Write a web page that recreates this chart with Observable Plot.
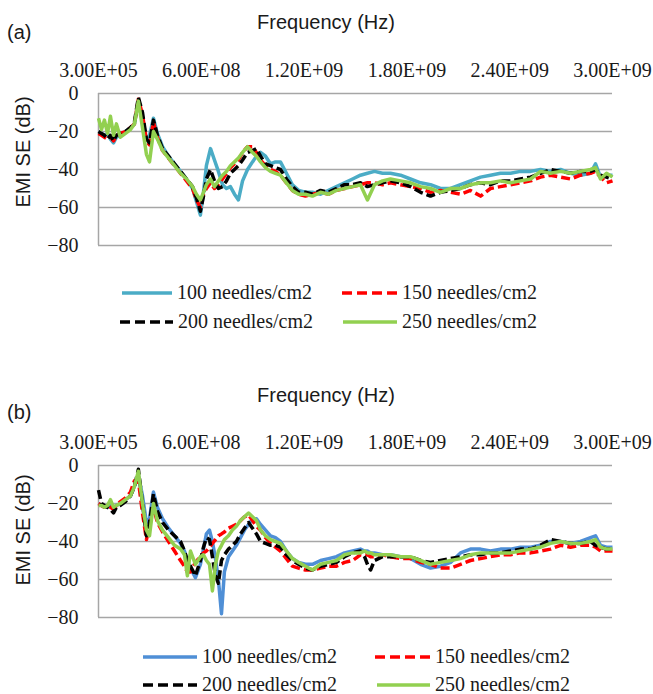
<!DOCTYPE html>
<html>
<head>
<meta charset="utf-8">
<script src="https://cdn.jsdelivr.net/npm/d3@7"></script>
<script src="https://cdn.jsdelivr.net/npm/@observablehq/plot@0.6"></script>
<style>
  html, body { margin: 0; padding: 0; background: #fff; }
  #page { position: relative; width: 653px; height: 694px; overflow: hidden; background: #fff; }
  .abs { position: absolute; white-space: nowrap; line-height: 1; }
  .sans { font-family: "Liberation Sans", Arial, sans-serif; color: #1a1a1a; }
  .serif { font-family: "Liberation Serif", "Times New Roman", serif; color: #1a1a1a; }
  svg.plot { position: absolute; left: 0; }
</style>
</head>
<body>
<div id="page"></div>
<script>
// ---------- data ----------
const seriesNames = ["100 needles/cm2", "150 needles/cm2", "200 needles/cm2", "250 needles/cm2"];
const xTickValues = [3e5, 6e8, 1.2e9, 1.8e9, 2.4e9, 3e9];
const yTickValues = [0, -20, -40, -60, -80];

// Panel (a): frequency in MHz
const freqA = [0.3,18,35,53,70,88,105,128,158,187,210,233,257,280,298,321,344,374,409,444,479,514,549,572,595,613,630,654,677,700,724,747,770,794,817,841,870,899,922,946,975,1004,1033,1062,1097,1132,1168,1208,1249,1296,1343,1389,1436,1483,1529,1570,1611,1658,1704,1763,1821,1880,1938,1996,2055,2113,2171,2230,2288,2346,2405,2463,2522,2580,2638,2697,2755,2813,2872,2901,2930,2965,3000];
const a100 = [-20,-21,-22,-21,-24,-26,-23,-22,-20,-18,-16,-4,-13,-24,-22,-13,-21,-28,-33,-37,-41,-45,-50,-57,-64,-52,-38,-29,-35,-41,-48,-50,-49,-53,-56,-46,-40,-36,-33,-31,-33,-37,-36,-36,-42,-48,-51,-52,-52,-53,-51,-49,-47,-45,-43,-42,-41,-42,-42,-43,-45,-47,-48,-50,-50,-48,-46,-44,-43,-42,-42,-41,-41,-40,-41,-40,-42,-43,-42,-37,-44,-43,-43];
const a150 = [-21,-22,-23,-24,-23,-25,-22,-21,-20,-18,-16,-3,-11,-25,-27,-15,-23,-30,-34,-38,-42,-46,-50,-56,-60,-53,-50,-47,-50,-48,-45,-42,-39,-37,-35,-31,-28,-28,-31,-35,-38,-40,-41,-43,-47,-51,-53,-54,-53,-52,-53,-51,-50,-49,-48,-47,-47,-48,-47,-48,-49,-50,-52,-51,-52,-53,-51,-54,-50,-49,-48,-47,-46,-44,-43,-44,-45,-43,-42,-41,-44,-47,-46];
const a200 = [-20,-21,-22,-24,-22,-25,-22,-21,-20,-18,-15,-2,-10,-24,-26,-14,-22,-29,-33,-37,-41,-45,-49,-55,-62,-54,-45,-40,-46,-50,-49,-46,-42,-40,-38,-35,-31,-30,-29,-33,-37,-38,-39,-40,-45,-49,-52,-52,-53,-51,-52,-50,-48,-48,-47,-49,-48,-47,-46,-47,-49,-52,-54,-52,-51,-50,-48,-47,-48,-46,-46,-45,-44,-42,-40,-41,-42,-41,-41,-40,-43,-44,-45];
const a250 = [-13,-19,-14,-21,-12,-22,-16,-23,-21,-19,-16,-4,-18,-32,-36,-20,-24,-30,-34,-38,-42,-45,-49,-53,-56,-52,-48,-45,-49,-46,-43,-41,-38,-36,-34,-31,-28,-31,-33,-36,-39,-41,-42,-43,-47,-51,-53,-53,-54,-52,-53,-51,-50,-49,-48,-56,-48,-46,-45,-46,-47,-49,-50,-52,-50,-50,-48,-47,-47,-46,-47,-46,-45,-41,-42,-41,-42,-41,-40,-39,-45,-42,-44];

// Panel (b): frequency in MHz
const freqB = [0.3,18,35,53,70,88,105,128,158,187,210,233,257,280,298,321,344,374,409,444,479,502,519,537,566,595,613,630,648,665,683,700,718,735,759,782,805,829,852,876,899,922,946,975,1004,1033,1062,1097,1132,1168,1208,1249,1296,1343,1389,1436,1483,1529,1553,1570,1588,1611,1658,1704,1763,1821,1880,1938,1996,2055,2113,2171,2230,2288,2346,2405,2463,2522,2580,2638,2697,2755,2813,2872,2901,2930,2965,3000];
const b100 = [-20,-21,-22,-22,-21,-23,-21,-20,-18,-16,-11,-5,-16,-30,-28,-14,-22,-28,-33,-37,-41,-45,-50,-54,-59,-52,-44,-36,-34,-40,-49,-60,-78,-56,-48,-45,-42,-38,-34,-31,-28,-28,-31,-34,-37,-38,-40,-45,-49,-51,-52,-52,-50,-49,-48,-46,-45,-44,-45,-45,-46,-46,-47,-47,-48,-49,-52,-54,-53,-51,-46,-44,-44,-45,-44,-44,-43,-43,-42,-40,-40,-41,-40,-38,-37,-42,-43,-43];
const b150 = [-20,-21,-22,-21,-22,-23,-21,-19,-17,-14,-8,-8,-25,-39,-32,-22,-30,-35,-40,-45,-50,-53,-56,-56,-51,-48,-46,-45,-43,-41,-39,-37,-36,-35,-33,-32,-31,-29,-27,-26,-29,-32,-34,-38,-41,-43,-45,-49,-53,-54,-55,-55,-54,-53,-53,-51,-50,-47,-47,-47,-48,-48,-47,-48,-49,-49,-51,-52,-54,-54,-52,-50,-49,-48,-47,-47,-46,-46,-45,-44,-42,-43,-42,-42,-43,-45,-45,-45];
const b200 = [-13,-20,-21,-22,-23,-25,-22,-21,-19,-16,-11,-2,-20,-37,-30,-15,-24,-30,-34,-37,-40,-45,-50,-53,-58,-50,-43,-38,-39,-48,-58,-62,-50,-47,-44,-42,-40,-36,-33,-30,-33,-36,-40,-41,-42,-42,-43,-47,-50,-52,-54,-55,-53,-52,-51,-48,-46,-45,-48,-52,-55,-50,-48,-48,-48,-48,-50,-51,-50,-49,-48,-47,-47,-46,-46,-45,-44,-44,-42,-39,-40,-41,-41,-40,-42,-43,-44,-44];
const b250 = [-21,-21,-22,-21,-18,-22,-21,-20,-18,-16,-11,-3,-20,-34,-37,-20,-29,-34,-38,-42,-44,-47,-58,-45,-52,-48,-47,-50,-52,-66,-52,-45,-42,-39,-37,-34,-32,-29,-27,-25,-27,-29,-34,-37,-39,-40,-41,-45,-49,-51,-53,-55,-52,-51,-50,-47,-46,-46,-45,-46,-46,-47,-47,-47,-48,-48,-50,-52,-51,-50,-49,-47,-46,-46,-46,-46,-45,-44,-43,-41,-40,-41,-41,-40,-39,-43,-44,-44];

// ---------- styles ----------
const stylesA = [
  {color: "#4bacc6", dash: null},
  {color: "#ff0000", dash: "9,4"},
  {color: "#000000", dash: "9,4"},
  {color: "#92d050", dash: null}
];
const stylesB = [
  {color: "#4f8fd6", dash: null},
  {color: "#ff0000", dash: "9,4"},
  {color: "#000000", dash: "9,4"},
  {color: "#92d050", dash: null}
];
const serifFont = "'Liberation Serif', 'Times New Roman', serif";

function fmtExp(d) {
  const [m, e] = d.toExponential(2).split("e");
  const sign = e[0] === "-" ? "-" : "+";
  const digits = e.replace(/^[+-]/, "").padStart(2, "0");
  return m + "E" + sign + digits;
}

const page = document.getElementById("page");

function addText(txt, cls, left, top, opts = {}) {
  const el = document.createElement("div");
  el.className = "abs " + cls;
  el.textContent = txt;
  el.style.left = left + "px";
  el.style.top = top + "px";
  el.style.fontSize = (opts.size || 20) + "px";
  if (opts.center) el.style.transform = "translateX(-50%)";
  if (opts.rotate) {
    el.style.transform = "translate(-50%, -50%) rotate(-90deg)";
  }
  page.appendChild(el);
  return el;
}

function makePanel(freq, values, styles, top) {
  const rows = values.map((arr, k) => arr.map((v, i) => ({f: freq[i] * 1e6, v, s: seriesNames[k]})));
  const chart = Plot.plot({
    width: 653,
    height: 260,
    marginTop: 93,
    marginBottom: 15,
    marginLeft: 98,
    marginRight: 41,
    style: {fontFamily: serifFont, fontSize: "20px", color: "#1a1a1a", background: "transparent", overflow: "visible"},
    x: {type: "linear", domain: [3e5, 3e9]},
    y: {domain: [-80, 0]},
    marks: [
      Plot.gridY(yTickValues, {stroke: "#a6a6a6", strokeOpacity: 1, strokeWidth: 1.5}),
      Plot.ruleX([3e5], {stroke: "#a6a6a6", strokeWidth: 1.5}),
      Plot.axisX(xTickValues, {anchor: "top", tickSize: 0, tickPadding: 17, tickFormat: fmtExp, label: null, fontSize: 20, fontFamily: serifFont}),
      Plot.axisY(yTickValues, {anchor: "left", tickSize: 0, tickPadding: 20, label: null, fontSize: 20, fontFamily: serifFont}),
      ...rows.map((r, k) => Plot.line(r, {
        x: "f", y: "v",
        stroke: styles[k].color,
        strokeWidth: 3.5,
        strokeDasharray: styles[k].dash,
        strokeLinejoin: "round",
        strokeLinecap: "butt"
      }))
    ]
  });
  chart.classList.add("plot");
  chart.style.top = top + "px";
  page.appendChild(chart);
}

function legendItem(x1, x2, y, style, label) {
  const ns = "http://www.w3.org/2000/svg";
  const svg = document.createElementNS(ns, "svg");
  svg.setAttribute("width", x2 - x1);
  svg.setAttribute("height", 8);
  svg.style.position = "absolute";
  svg.style.left = x1 + "px";
  svg.style.top = (y - 4) + "px";
  const line = document.createElementNS(ns, "line");
  line.setAttribute("x1", 0); line.setAttribute("x2", x2 - x1);
  line.setAttribute("y1", 4); line.setAttribute("y2", 4);
  line.setAttribute("stroke", style.color);
  line.setAttribute("stroke-width", 3.5);
  if (style.dash) line.setAttribute("stroke-dasharray", "10,5");
  svg.appendChild(line);
  page.appendChild(svg);
  addText(label, "serif", x2 + 5, y - 11, {size: 20});
}

// Panel (a)
addText("(a)", "sans", 7, 22, {size: 20});
addText("Frequency (Hz)", "sans", 326, 12, {size: 20, center: true});
makePanel(freqA, [a100, a150, a200, a250], stylesA, 0);
addText("EMI SE (dB)", "sans", 23, 152, {size: 20, rotate: true});
legendItem(122, 172, 293, stylesA[0], seriesNames[0]);
legendItem(342, 397, 293, stylesA[1], seriesNames[1]);
legendItem(120, 173, 322, stylesA[2], seriesNames[2]);
legendItem(343, 397, 322, stylesA[3], seriesNames[3]);

// Panel (b)
addText("(b)", "sans", 7, 402, {size: 20});
addText("Frequency (Hz)", "sans", 326, 385, {size: 20, center: true});
makePanel(freqB, [b100, b150, b200, b250], stylesB, 372);
addText("EMI SE (dB)", "sans", 23, 530, {size: 20, rotate: true});
legendItem(143, 197, 657, stylesB[0], seriesNames[0]);
legendItem(375, 430, 657, stylesB[1], seriesNames[1]);
legendItem(143, 197, 685, stylesB[2], seriesNames[2]);
legendItem(377, 430, 685, stylesB[3], seriesNames[3]);
</script>
</body>
</html>
